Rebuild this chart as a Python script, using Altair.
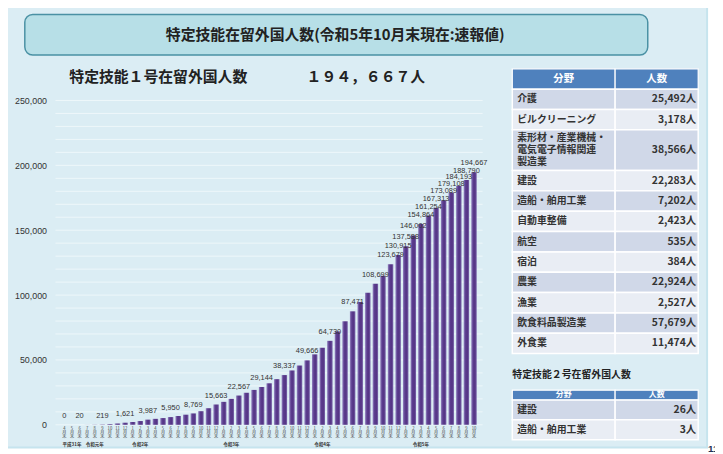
import altair as alt
import pandas as pd

# ---------------- data ----------------
months = [
    "2019-04", "2019-05", "2019-06", "2019-07", "2019-08", "2019-09", "2019-10", "2019-11", "2019-12",
    "2020-01", "2020-02", "2020-03", "2020-04", "2020-05", "2020-06", "2020-07", "2020-08", "2020-09",
    "2020-10", "2020-11", "2020-12",
    "2021-01", "2021-02", "2021-03", "2021-04", "2021-05", "2021-06", "2021-07", "2021-08", "2021-09",
    "2021-10", "2021-11", "2021-12",
    "2022-01", "2022-02", "2022-03", "2022-04", "2022-05", "2022-06", "2022-07", "2022-08", "2022-09",
    "2022-10", "2022-11", "2022-12",
    "2023-01", "2023-02", "2023-03", "2023-04", "2023-05", "2023-06", "2023-07", "2023-08", "2023-09",
    "2023-10",
]
counts = [
    0, 3, 20, 45, 110, 219, 520, 1000, 1621,
    2100, 2900, 3987, 4600, 5200, 5950, 6800, 7800, 8769,
    10500, 12800, 15663,
    17700, 20000, 22567, 24700, 26900, 29144, 32000, 35200, 38337,
    41900, 45700, 49666,
    54300, 59400, 64730, 72000, 79800, 87471, 94700, 101700, 108699,
    114900, 123679, 130915,
    137588, 146002, 154864, 161254, 167313, 173089, 179108, 184193, 188790,
    194667,
]
labeled_months = [
    "2019-04", "2019-06", "2019-09", "2019-12", "2020-03", "2020-06", "2020-09", "2020-12",
    "2021-03", "2021-06", "2021-09", "2021-12", "2022-03", "2022-06", "2022-09",
    "2022-11", "2022-12", "2023-01", "2023-02", "2023-03", "2023-04", "2023-05",
    "2023-06", "2023-07", "2023-08", "2023-09", "2023-10",
]
y_ticks = [0, 50000, 100000, 150000, 200000, 250000]
grid_values = list(range(0, 250001, 10000))

year_names = ["平成31年", "令和元年", "令和2年", "令和3年", "令和4年", "令和5年"]
year_anchor = ["2019-05", "2019-08", "2020-02", "2021-02", "2022-02", "2023-03"]

title_text = "特定技能在留外国人数(令和5年10月末現在:速報値)"
subtitle_text = "特定技能１号在留外国人数　　　　１９４，６６７人"

fields1 = ["介護", "ビルクリーニング", "素形材・産業機械・\n電気電子情報関連\n製造業", "建設",
           "造船・舶用工業", "自動車整備", "航空", "宿泊", "農業", "漁業", "飲食料品製造業", "外食業"]
counts1 = [25492, 3178, 38566, 22283, 7202, 2423, 535, 384, 22924, 2527, 57679, 11474]
table2_title = "特定技能２号在留外国人数"
fields2 = ["建設", "造船・舶用工業"]
counts2 = [26, 3]
header_cols = ["分野", "人数"]

# ---------------- frames ----------------
df = pd.DataFrame({"month": months, "count": counts})
df_lab = df[df["month"].isin(labeled_months)]
df_grid = pd.DataFrame({"v": grid_values})
df_year = pd.DataFrame({"month": year_anchor, "t": year_names})

JP = "Noto Sans CJK JP"
LAT = "Liberation Sans"

xscale = alt.Scale(domain=months, range=[53.2, 475.1], paddingInner=0.28, paddingOuter=0.14)
yscale = alt.Scale(domain=[0, 250000], range=[419, 91], nice=False, zero=True)


def one(t):
    return pd.DataFrame({"t": [t]})


bg = alt.Chart(one("")).mark_rect(fill="#dbedf4", stroke="#c6e4ee", strokeWidth=2).encode(
    x=alt.value(-4), x2=alt.value(707), y=alt.value(-4), y2=alt.value(442)
)
page_no = alt.Chart(one("11")).mark_text(
    font=LAT, fontSize=10, fontWeight="bold", color="#1f2f55", align="left", baseline="top"
).encode(x=alt.value(708), y=alt.value(439), text="t:N")

title_box = alt.Chart(one("")).mark_rect(
    fill="#b7dfe7", stroke="#4a91a4", strokeWidth=1.5, cornerRadius=8
).encode(x=alt.value(17), x2=alt.value(647), y=alt.value(4), y2=alt.value(45))
title = alt.Chart(one(title_text)).mark_text(
    font=JP, fontSize=15, fontWeight="bold", color="#222222"
).encode(x=alt.value(331), y=alt.value(24.5), text="t:N")
subtitle = alt.Chart(one(subtitle_text)).mark_text(
    font=JP, fontSize=15, fontWeight="bold", color="#222222", align="left"
).encode(x=alt.value(62), y=alt.value(67), text="t:N")

grid = alt.Chart(df_grid).mark_rule(color="#eef7fa", strokeWidth=1).encode(
    y=alt.Y("v:Q", scale=yscale, axis=None), x=alt.value(48), x2=alt.value(480)
)

bar_gradient = alt.Gradient(
    gradient="linear", x1=0, x2=1, y1=0, y2=0,
    stops=[
        alt.GradientStop(color="#9384c0", offset=0),
        alt.GradientStop(color="#5b3c8e", offset=0.35),
        alt.GradientStop(color="#553585", offset=0.7),
        alt.GradientStop(color="#7d6aad", offset=1),
    ],
)
bars = alt.Chart(df).mark_bar(color=bar_gradient).encode(
    x=alt.X(
        "month:N", scale=xscale, title=None,
        axis=alt.Axis(
            orient="bottom", offset=-25, ticks=False, domain=False, grid=False, zindex=2,
            labelExpr="[toString(toNumber(slice(datum.value, 5, 7))), '月', '末']",
            labelFont=JP, labelFontSize=4.2, labelLineHeight=4.1, labelBaseline="top",
            labelPadding=0, labelAngle=0, labelOverlap=False, labelColor="#444444",
            labelBound=False, labelFlush=False,
        ),
    ),
    y=alt.Y(
        "count:Q", scale=yscale, title=None,
        axis=alt.Axis(
            values=y_ticks, labelExpr="format(datum.value, ',')",
            labelFont=LAT, labelFontSize=9, labelColor="#333333",
            ticks=False, domain=False, grid=False, offset=-41, labelPadding=2, zindex=2,
        ),
    ),
)
bar_labels = alt.Chart(df_lab).mark_text(
    font=LAT, fontSize=7.5, color="#333333", baseline="middle", dy=-9
).encode(
    x=alt.X("month:N", scale=xscale, axis=None),
    y=alt.Y("count:Q", scale=yscale, axis=None),
    text=alt.Text("count:Q", format=","),
)
year_labels = alt.Chart(df_year).mark_text(
    font=JP, fontSize=4.6, fontWeight="bold", color="#333333", baseline="middle"
).encode(
    x=alt.X("month:N", scale=xscale, axis=None),
    y=alt.value(439),
    text="t:N",
)

# ---------------- tables ----------------
COL_X = [510, 614, 698]
DARK, LIGHT, HEAD = "#d0d8e8", "#e9edf4", "#4f81bd"
LINE_H = 12.4


def build_rows(names, cnts, start, unit_px):
    rows, pos = [], start
    for i, (n, c) in enumerate(zip(names, cnts)):
        nl = n.count("\n") + 1
        h = 2 if nl > 1 else 1
        rm = pos + h / 2
        rows.append({"name": n, "cnt": f"{c:,}人", "r0": pos, "r1": pos + h,
                     "rm": rm, "ty": rm - (nl - 1) / 2 * LINE_H / unit_px,
                     "fill": DARK if i % 2 == 0 else LIGHT})
        pos += h
    return pd.DataFrame(rows)


def table(names, cnts, header_units, yrange, head_size):
    total = header_units + sum(2 if "\n" in n else 1 for n in names)
    unit_px = (yrange[1] - yrange[0]) / total
    rows = build_rows(names, cnts, header_units, unit_px)
    ys = alt.Scale(domain=[0, total], range=yrange, nice=False, zero=False)
    head = pd.DataFrame({"r0": [0], "r1": [header_units], "rm": [header_units / 2],
                         "a": [header_cols[0]], "b": [header_cols[1]]})
    layers = []
    for x0, x1 in [(COL_X[0], COL_X[1]), (COL_X[1], COL_X[2])]:
        layers.append(alt.Chart(head).mark_rect(fill=HEAD, stroke="white", strokeWidth=1.2).encode(
            x=alt.value(x0), x2=alt.value(x1),
            y=alt.Y("r0:Q", scale=ys, axis=None), y2="r1:Q"))
        layers.append(alt.Chart(rows).mark_rect(stroke="white", strokeWidth=1.5).encode(
            x=alt.value(x0), x2=alt.value(x1),
            y=alt.Y("r0:Q", scale=ys, axis=None), y2="r1:Q",
            color=alt.Color("fill:N", scale=None)))
    layers.append(alt.Chart(head).mark_text(
        font=JP, fontSize=head_size, fontWeight="bold", color="white", baseline="middle").encode(
        x=alt.value((COL_X[0] + COL_X[1]) / 2), y=alt.Y("rm:Q", scale=ys, axis=None), text="a:N"))
    layers.append(alt.Chart(head).mark_text(
        font=JP, fontSize=head_size, fontWeight="bold", color="white", baseline="middle").encode(
        x=alt.value((COL_X[1] + COL_X[2]) / 2), y=alt.Y("rm:Q", scale=ys, axis=None), text="b:N"))
    layers.append(alt.Chart(rows).mark_text(
        font=JP, fontSize=10, fontWeight="bold", color="#333333", align="left",
        baseline="middle", lineBreak="\n", lineHeight=LINE_H).encode(
        x=alt.value(COL_X[0] + 5), y=alt.Y("ty:Q", scale=ys, axis=None), text="name:N"))
    layers.append(alt.Chart(rows).mark_text(
        font=JP, fontSize=10.5, fontWeight="bold", color="#333333", align="right",
        baseline="middle").encode(
        x=alt.value(COL_X[2] - 2), y=alt.Y("rm:Q", scale=ys, axis=None), text="cnt:N"))
    return layers


t1_layers = table(fields1, counts1, 1, [59, 347], 10.5)
t2_layers = table(fields2, counts2, 0.5, [384, 434], 8)
t2_title = alt.Chart(one(table2_title)).mark_text(
    font=JP, fontSize=10, fontWeight="bold", color="#222222", align="left", baseline="middle"
).encode(x=alt.value(510), y=alt.value(369), text="t:N")

chart = alt.layer(
    bg, page_no, title_box, title, subtitle, grid, bars, bar_labels, year_labels,
    *t1_layers, t2_title, *t2_layers,
).resolve_scale(x="independent", y="independent").properties(
    width=715, height=446, padding=0, autosize=alt.AutoSizeParams(type="none")
).configure_view(stroke=None)

chart.save("out.html", embed_options={"renderer": "svg", "actions": False})
